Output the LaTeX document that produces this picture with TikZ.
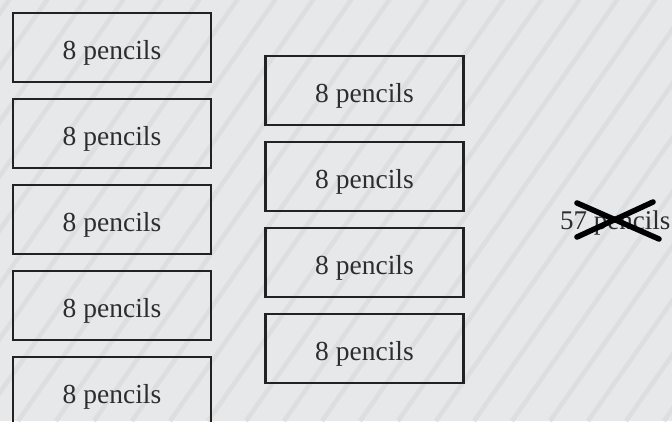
\documentclass[tikz,border=0pt]{standalone}
\usepackage{fontspec}
\setmainfont{Liberation Serif}
\definecolor{bg}{RGB}{231,232,234}
\definecolor{stripe}{RGB}{221,222,224}
\definecolor{edge}{RGB}{34,34,34}
\definecolor{ink}{RGB}{45,45,45}
\begin{document}
\begin{tikzpicture}[x=1pt,y=-1pt,
  box/.style={draw=edge,line width=2.6pt,minimum width=198pt,minimum height=69pt,inner sep=0pt,
    text height=23pt,text depth=0pt,
    text=ink,font=\fontsize{27.5}{31}\selectfont},
  lbl/.style={text=ink,inner sep=0pt,font=\fontsize{27}{31}\selectfont},
  cross/.style={draw=black,line width=5.5pt,line cap=round}]
\useasboundingbox (0,0) rectangle (672,421);
\clip (0,0) rectangle (672,421);
\fill[bg] (0,0) rectangle (672,421);
\foreach \k in {0,...,26}{
  \draw[stripe,line width=4.5pt] ({16+38*\k},-10) -- ({16+38*\k-302},421);
}
% left column
\node[box] (l1) at (112,47.5) {8 pencils};
\node[box] (l2) at (112,133.5) {8 pencils};
\node[box] (l3) at (112,219.5) {8 pencils};
\node[box] (l4) at (112,305.5) {8 pencils};
\node[box] (l5) at (112,391.5) {8 pencils};
% right column
\node[box] (r1) at (364.5,90.5) {8 pencils};
\node[box] (r2) at (364.5,176.5) {8 pencils};
\node[box] (r3) at (364.5,262.5) {8 pencils};
\node[box] (r4) at (364.5,348.5) {8 pencils};
% crossed out total
\node[lbl,anchor=base east] (t) at (670.5,229) {57 pencils};
\draw[cross] (577,203) -- (659,239);
\draw[cross] (577,237) -- (653,202);
\end{tikzpicture}
\end{document}
